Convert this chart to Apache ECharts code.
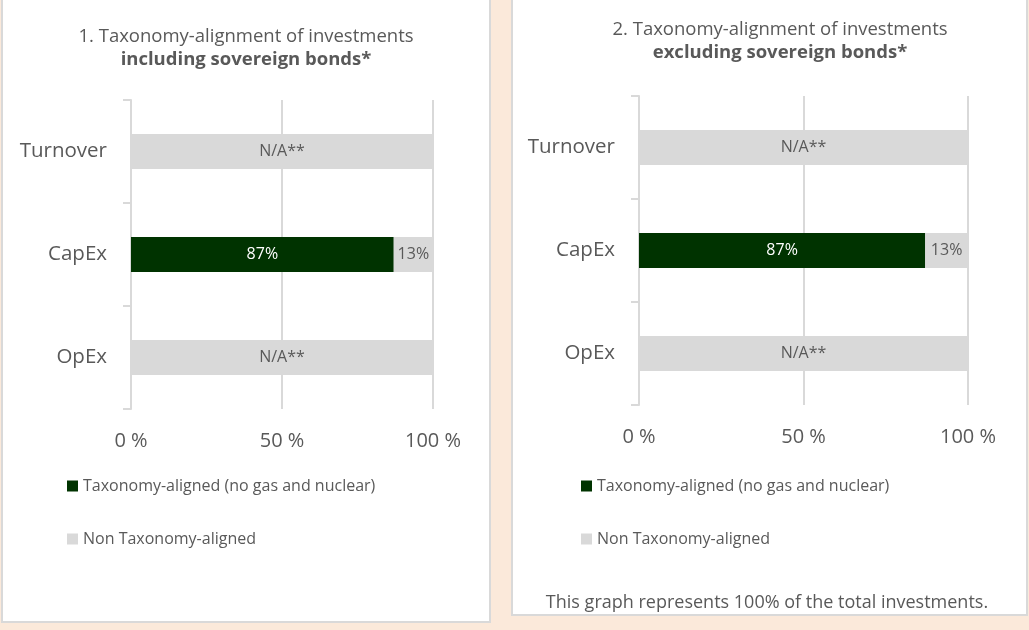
<!DOCTYPE html>
<html><head><meta charset="utf-8">
<script src="https://cdn.jsdelivr.net/npm/echarts@6/dist/echarts.min.js"></script>
<style>html,body{margin:0;padding:0;background:#FBE9DA;}#c{width:1029px;height:630px;}</style>
</head><body><div id="c"></div>
<script>
var categories = ['Turnover', 'CapEx', 'OpEx'];
var alignedIncl = [0, 87, 0];
var nonAlignedIncl = [100, 13, 100];
var alignedExcl = [0, 87, 0];
var nonAlignedExcl = [100, 13, 100];
var naFlags = [true, false, true];
var xTicks = [0, 50, 100];
var seriesNames = ['Taxonomy-aligned (no gas and nuclear)', 'Non Taxonomy-aligned'];
var titles1 = ['1. Taxonomy-alignment of investments', 'including sovereign bonds*'];
var titles2 = ['2. Taxonomy-alignment of investments', 'excluding sovereign bonds*'];
var footnote = 'This graph represents 100% of the total investments.';

var FONT = 'Open Sans';
var TXT = '#595959';
var GRID = '#D9D9D9';
var DARK = '#003300';

var chart = echarts.init(document.getElementById('c'));

function xAxis(gi) {
  return {
    type: 'value', gridIndex: gi, min: xTicks[0], max: xTicks[2], interval: xTicks[1] - xTicks[0],
    axisLine: {show: false}, axisTick: {show: false},
    axisLabel: {formatter: '{value} %', color: TXT, fontFamily: FONT, fontSize: 20, margin: 22},
    splitLine: {show: true, lineStyle: {color: GRID, width: 2}}
  };
}
function yAxis(gi) {
  return {
    type: 'category', gridIndex: gi, data: categories, inverse: true,
    axisLine: {show: true, lineStyle: {color: GRID, width: 2}},
    axisTick: {show: true, length: 8, lineStyle: {color: GRID, width: 2}},
    axisLabel: {color: TXT, fontFamily: FONT, fontSize: 20.5, margin: 24}
  };
}
function bars(gi, aligned, non) {
  return [
    {
      name: seriesNames[0], type: 'bar', stack: 's' + gi, xAxisIndex: gi, yAxisIndex: gi,
      data: aligned, barWidth: 35, itemStyle: {color: DARK},
      label: {show: true, position: 'inside', color: '#FFFFFF', fontFamily: FONT, fontSize: 16,
        formatter: function (p) { return p.value > 0 ? p.value + '%' : ''; }},
      silent: true
    },
    {
      name: seriesNames[1], type: 'bar', stack: 's' + gi, xAxisIndex: gi, yAxisIndex: gi,
      data: non, barWidth: 35, itemStyle: {color: GRID},
      label: {show: true, position: 'inside', color: TXT, fontFamily: FONT, fontSize: 16,
        formatter: function (p) { return naFlags[p.dataIndex] ? 'N/A**' : p.value + '%'; }},
      silent: true
    }
  ];
}
function legend(left, top) {
  return {
    orient: 'vertical', left: left, top: top, padding: 0, itemWidth: 11, itemHeight: 11, itemGap: 37,
    icon: 'rect', data: seriesNames, selectedMode: false,
    textStyle: {color: TXT, fontFamily: FONT, fontSize: 16, lineHeight: 16}
  };
}
function txt(x, y, s, size, weight) {
  return {type: 'text', x: x, y: y, silent: true,
    style: {text: s, fill: TXT, font: (weight || 'normal') + ' ' + size + 'px "' + FONT + '"',
      textAlign: 'center', textVerticalAlign: 'middle'}};
}

chart.setOption({
  backgroundColor: '#FBE9DA',
  animation: false,
  graphic: [
    {type: 'rect', shape: {x: 2, y: -2, width: 488, height: 624}, style: {fill: '#FFFFFF', stroke: '#D9D9D9', lineWidth: 2}, z: -10},
    {type: 'rect', shape: {x: 512, y: -2, width: 515, height: 617}, style: {fill: '#FFFFFF', stroke: '#D9D9D9', lineWidth: 2}, z: -10},
    txt(246, 37, titles1[0], 18.5),
    txt(246, 60, titles1[1], 18.5, 'bold'),
    txt(780, 30, titles2[0], 18.5),
    txt(780, 53, titles2[1], 18.5, 'bold'),
    txt(767, 603, footnote, 18)
  ],
  grid: [
    {left: 131, width: 302, top: 100, height: 309},
    {left: 639, width: 329, top: 96, height: 309}
  ],
  xAxis: [xAxis(0), xAxis(1)],
  yAxis: [yAxis(0), yAxis(1)],
  legend: [legend(67, 478), legend(581, 478)],
  series: bars(0, alignedIncl, nonAlignedIncl).concat(bars(1, alignedExcl, nonAlignedExcl))
});
</script></body></html>
